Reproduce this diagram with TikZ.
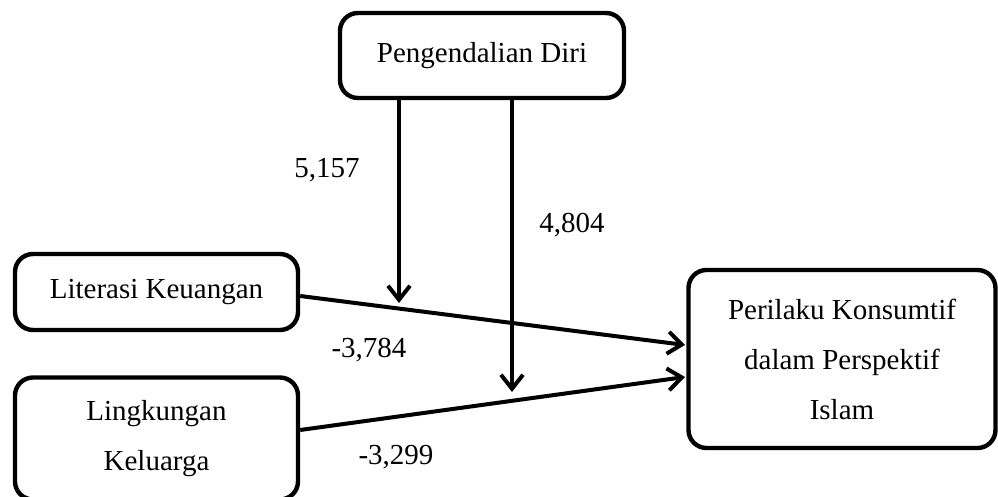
\documentclass[tikz,border=0pt]{standalone}
\usepackage{fontspec}
\setmainfont{Liberation Serif}
\usetikzlibrary{arrows.meta}
\tikzset{
    varbox/.style={draw,line width=2.2pt,rounded corners=9pt,align=center,font=\fontsize{14.5}{25}\selectfont},
    path/.style={line width=2pt,-{Straight Barb[length=7pt,width=11pt,line width=2pt]}},
    coef/.style={font=\fontsize{14.5}{17}\selectfont}
}
\begin{document}
\begin{tikzpicture}[x=0.5pt,y=-0.5pt]
            \useasboundingbox (0,0) rectangle (998,497);
            \node[varbox,minimum width=142pt,minimum height=42.5pt] (pd) at (482,55.5) {\raisebox{2.5pt}{Pengendalian Diri}};
            \node[varbox,minimum width=141.5pt,minimum height=38pt] (lk) at (156.5,292) {Literasi Keuangan};
            \node[varbox,minimum width=141.5pt,minimum height=61pt] (lg) at (156.5,438.5) {Lingkungan\\Keluarga};
            \node[varbox,minimum width=153.5pt,minimum height=89pt] (pk) at (842,359) {Perilaku Konsumtif\\dalam Perspektif\\Islam};
            \coordinate (m1) at (399,303);
            \coordinate (m2) at (512,392);
            \coordinate (t1) at (685,345);
            \coordinate (t2) at (685,377);
            \draw[path] (pd.south -| m1) -- (m1);
            \draw[path] (pd.south -| m2) -- (m2);
            \draw[path] (lk.east |- 0,296) -- (t1);
            \draw[path] (lg.east |- 0,430) -- (t2);
            \node[coef] (c1) at (327,170) {5,157};
            \node[coef] (c2) at (572,225) {4,804};
            \node[coef] (c3) at (369,350) {-3,784};
            \node[coef] (c4) at (396,457) {-3,299};
        \end{tikzpicture}
\end{document}
